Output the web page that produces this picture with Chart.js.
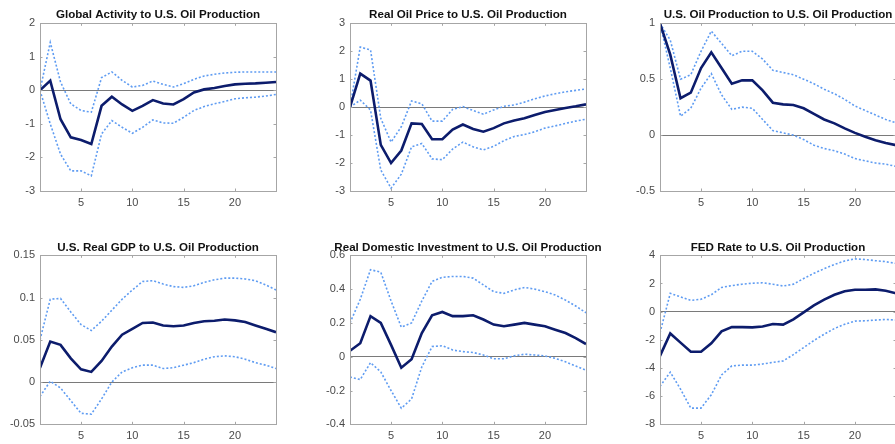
<!DOCTYPE html>
<html>
<head>
<meta charset="utf-8">
<script src="https://cdn.jsdelivr.net/npm/chart.js@4/dist/chart.umd.min.js"></script>
<style>
    body { margin: 0; background: #fff; }
    #wrap { position: relative; width: 895px; height: 444px; overflow: hidden; }
    #wrap canvas { position: absolute; }
</style>
</head>
<body>
<div id="wrap"></div>
<script>
// Horizon (periods) and x tick labels
const periods = [1, 2, 3, 4, 5, 6, 7, 8, 9, 10, 11, 12, 13, 14, 15, 16, 17, 18, 19, 20, 21, 22, 23, 24];
const xTicks = [5, 10, 15, 20];

// Global Activity
const activityMed = [0, 0.29, -0.86, -1.40, -1.48, -1.60, -0.46, -0.19, -0.42, -0.61, -0.46, -0.29, -0.39, -0.42, -0.26, -0.06, 0.03, 0.07, 0.13, 0.18, 0.20, 0.21, 0.23, 0.25];
const activityUp = [0, 1.43, 0.25, -0.40, -0.60, -0.65, 0.38, 0.55, 0.30, 0.10, 0.15, 0.28, 0.18, 0.10, 0.20, 0.33, 0.43, 0.48, 0.52, 0.54, 0.55, 0.55, 0.55, 0.55];
const activityLo = [0, -1.0, -1.9, -2.40, -2.40, -2.55, -1.30, -0.90, -1.10, -1.28, -1.10, -0.88, -0.97, -0.98, -0.80, -0.60, -0.48, -0.40, -0.33, -0.25, -0.22, -0.20, -0.17, -0.12];
const activityTicks = [-3, -2, -1, 0, 1, 2];

// Real Oil Price
const priceMed = [0, 1.2, 0.95, -1.35, -2.0, -1.55, -0.58, -0.60, -1.15, -1.15, -0.80, -0.62, -0.78, -0.88, -0.75, -0.58, -0.48, -0.40, -0.28, -0.17, -0.10, -0.03, 0.03, 0.10];
const priceUp = [0, 2.15, 2.05, -0.40, -1.25, -0.70, 0.22, 0.12, -0.50, -0.50, -0.08, 0.02, -0.12, -0.25, -0.10, 0.03, 0.08, 0.18, 0.30, 0.40, 0.48, 0.55, 0.60, 0.65];
const priceLo = [0, 0.25, -0.10, -2.25, -2.90, -2.40, -1.42, -1.30, -1.85, -1.88, -1.50, -1.25, -1.42, -1.53, -1.40, -1.20, -1.05, -0.98, -0.88, -0.75, -0.67, -0.58, -0.50, -0.43];
const priceTicks = [-3, -2, -1, 0, 1, 2, 3];

// U.S. Oil Production
const prodMed = [1.0, 0.72, 0.33, 0.38, 0.60, 0.74, 0.60, 0.46, 0.49, 0.49, 0.40, 0.29, 0.275, 0.27, 0.24, 0.19, 0.14, 0.105, 0.06, 0.02, -0.015, -0.045, -0.07, -0.09];
const prodUp = [1.0, 0.85, 0.50, 0.54, 0.75, 0.93, 0.82, 0.71, 0.75, 0.75, 0.68, 0.58, 0.56, 0.54, 0.50, 0.46, 0.41, 0.37, 0.32, 0.26, 0.22, 0.18, 0.14, 0.11];
const prodLo = [1.0, 0.60, 0.17, 0.24, 0.42, 0.55, 0.36, 0.23, 0.25, 0.24, 0.14, 0.04, 0.02, 0.0, -0.04, -0.09, -0.12, -0.14, -0.17, -0.21, -0.23, -0.25, -0.26, -0.28];
const prodTicks = [-0.5, 0, 0.5, 1];

// U.S. Real GDP
const gdpMed = [0.017, 0.048, 0.044, 0.028, 0.015, 0.012, 0.025, 0.042, 0.056, 0.063, 0.070, 0.0705, 0.067, 0.066, 0.067, 0.070, 0.072, 0.0725, 0.074, 0.073, 0.071, 0.067, 0.063, 0.059];
const gdpUp = [0.050, 0.098, 0.099, 0.083, 0.068, 0.061, 0.072, 0.085, 0.098, 0.109, 0.119, 0.120, 0.116, 0.113, 0.112, 0.114, 0.118, 0.121, 0.123, 0.123, 0.122, 0.120, 0.115, 0.109];
const gdpLo = [-0.017, 0.001, -0.007, -0.022, -0.037, -0.038, -0.020, 0.0, 0.012, 0.017, 0.020, 0.020, 0.016, 0.017, 0.020, 0.023, 0.027, 0.030, 0.031, 0.030, 0.027, 0.023, 0.020, 0.016];
const gdpTicks = [-0.05, 0, 0.05, 0.1, 0.15];

// Real Domestic Investment
const investMed = [0.035, 0.08, 0.24, 0.20, 0.07, -0.065, -0.015, 0.14, 0.245, 0.265, 0.24, 0.24, 0.245, 0.22, 0.19, 0.18, 0.19, 0.20, 0.19, 0.18, 0.16, 0.14, 0.11, 0.075];
const investUp = [0.20, 0.34, 0.515, 0.50, 0.33, 0.175, 0.20, 0.33, 0.445, 0.47, 0.475, 0.475, 0.465, 0.425, 0.385, 0.375, 0.395, 0.41, 0.40, 0.385, 0.365, 0.335, 0.30, 0.26];
const investLo = [-0.12, -0.135, -0.035, -0.09, -0.20, -0.305, -0.25, -0.06, 0.06, 0.065, 0.04, 0.03, 0.025, 0.01, -0.012, -0.012, 0.005, 0.015, 0.01, 0.005, -0.01, -0.03, -0.055, -0.08];
const investTicks = [-0.4, -0.2, 0, 0.2, 0.4, 0.6];

// FED Rate
const fedMed = [-3.15, -1.55, -2.2, -2.85, -2.85, -2.25, -1.4, -1.1, -1.1, -1.12, -1.05, -0.88, -0.92, -0.55, -0.05, 0.45, 0.85, 1.2, 1.45, 1.55, 1.55, 1.58, 1.48, 1.3];
const fedUp = [-1.5, 1.3, 1.05, 0.8, 0.88, 1.2, 1.72, 1.85, 1.95, 2.02, 2.05, 1.95, 1.82, 1.95, 2.35, 2.72, 3.05, 3.35, 3.6, 3.75, 3.7, 3.62, 3.55, 3.42];
const fedLo = [-5.3, -4.3, -5.5, -6.85, -6.85, -5.9, -4.5, -3.85, -3.8, -3.8, -3.72, -3.6, -3.5, -3.05, -2.55, -2.05, -1.6, -1.2, -0.9, -0.67, -0.65, -0.6, -0.55, -0.6];
const fedTicks = [-8, -6, -4, -2, 0, 2, 4];

const panels = [
    { title: 'Global Activity to U.S. Oil Production', med: activityMed, up: activityUp, lo: activityLo, ticks: activityTicks, col: 0, row: 0 },
    { title: 'Real Oil Price to U.S. Oil Production', med: priceMed, up: priceUp, lo: priceLo, ticks: priceTicks, col: 1, row: 0 },
    { title: 'U.S. Oil Production to U.S. Oil Production', med: prodMed, up: prodUp, lo: prodLo, ticks: prodTicks, col: 2, row: 0 },
    { title: 'U.S. Real GDP to U.S. Oil Production', med: gdpMed, up: gdpUp, lo: gdpLo, ticks: gdpTicks, col: 0, row: 1 },
    { title: 'Real Domestic Investment to U.S. Oil Production', med: investMed, up: investUp, lo: investLo, ticks: investTicks, col: 1, row: 1 },
    { title: 'FED Rate to U.S. Oil Production', med: fedMed, up: fedUp, lo: fedLo, ticks: fedTicks, col: 2, row: 1 },
];

const FONT = '"Liberation Sans", Arial, sans-serif';
const BOX = '#a6a6a6';
const plotLefts = [40, 350, 660];
const plotW = 236;
const margin = 50;

// MATLAB style axes box with small inward ticks
const boxPlugin = {
    id: 'box',
    afterDatasetsDraw(chart) {
        const { ctx, chartArea: a, scales } = chart;
        ctx.save();
        ctx.strokeStyle = BOX;
        ctx.lineWidth = 1;
        ctx.strokeRect(Math.round(a.left) + 0.5, Math.round(a.top) + 0.5, Math.round(a.right - a.left), Math.round(a.bottom - a.top));
        ctx.beginPath();
        scales.x.ticks.forEach((t) => {
            const px = Math.round(scales.x.getPixelForValue(t.value)) + 0.5;
            ctx.moveTo(px, a.bottom); ctx.lineTo(px, a.bottom - 2.5);
            ctx.moveTo(px, a.top); ctx.lineTo(px, a.top + 2.5);
        });
        scales.y.ticks.forEach((t) => {
            const py = Math.round(scales.y.getPixelForValue(t.value)) + 0.5;
            ctx.moveTo(a.left, py); ctx.lineTo(a.left + 2.5, py);
            ctx.moveTo(a.right, py); ctx.lineTo(a.right - 2.5, py);
        });
        ctx.stroke();
        ctx.restore();
    }
};

const fmt = (v) => String(Math.round(v * 1000) / 1000);

panels.forEach((p) => {
    const canvas = document.createElement('canvas');
    const top = p.row === 0;
    canvas.width = plotW + 2 * margin;
    canvas.height = 222;
    canvas.style.left = (plotLefts[p.col] - margin) + 'px';
    canvas.style.top = (p.row * 222) + 'px';
    document.getElementById('wrap').appendChild(canvas);

    const line = (data, isMed) => ({
        data: data.map((y, i) => ({ x: periods[i], y: y })),
        borderColor: isMed ? '#0c1c6c' : '#5f9cf2',
        borderWidth: isMed ? 2.6 : 1.6,
        borderDash: isMed ? [] : [2, 2],
        pointRadius: 0,
        tension: 0,
        fill: false,
    });

    new Chart(canvas, {
        type: 'line',
        data: { datasets: [line(p.med, true), line(p.up, false), line(p.lo, false)] },
        options: {
            responsive: false,
            animation: false,
            events: [],
            layout: { padding: 0 },
            plugins: {
                legend: { display: false },
                tooltip: { enabled: false },
                title: {
                    display: true,
                    text: p.title,
                    color: '#111',
                    font: { family: FONT, size: 11.6, weight: 'bold' },
                    padding: top ? { top: 8, bottom: 1.4 } : { top: 19.2, bottom: 0.2 },
                },
            },
            scales: {
                x: {
                    type: 'linear',
                    min: 1,
                    max: 24,
                    afterBuildTicks: (s) => { s.ticks = xTicks.map((v) => ({ value: v })); },
                    afterFit: (s) => { s.height = top ? 31 : 19.7; },
                    grid: { display: false, drawTicks: false },
                    border: { display: false },
                    ticks: { color: '#4a4a4a', font: { family: FONT, size: 11 }, padding: 5, maxRotation: 0, callback: fmt },
                },
                y: {
                    type: 'linear',
                    min: p.ticks[0],
                    max: p.ticks[p.ticks.length - 1],
                    afterBuildTicks: (s) => { s.ticks = p.ticks.map((v) => ({ value: v })); },
                    afterFit: (s) => { s.width = margin; },
                    grid: {
                        drawTicks: false,
                        color: (c) => (c.tick && c.tick.value === 0 ? '#7a7a7a' : 'rgba(0,0,0,0)'),
                        lineWidth: 1,
                    },
                    border: { display: false },
                    ticks: { color: '#4a4a4a', font: { family: FONT, size: 11 }, padding: 5, callback: fmt },
                },
                // empty right-hand axis keeps the plot centred under its title
                yRight: {
                    type: 'linear',
                    position: 'right',
                    afterFit: (s) => { s.width = margin; },
                    grid: { display: false, drawTicks: false },
                    border: { display: false },
                    ticks: { display: false },
                },
            },
        },
        plugins: [boxPlugin],
    });
});
</script>
</body>
</html>
